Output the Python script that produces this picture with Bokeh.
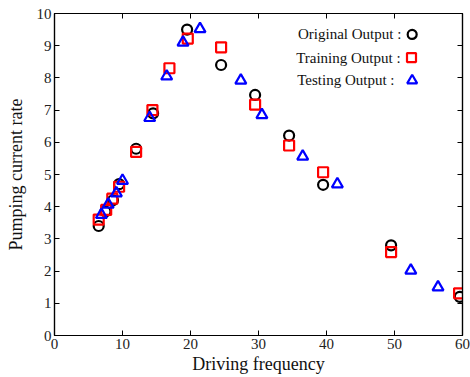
from bokeh.plotting import figure
from bokeh.models import LinearAxis, Range1d, FixedTicker, Label
from bokeh.embed import file_html
from bokeh.resources import INLINE

# Original output (black circles)
orig_x = [6.5, 7.5, 8.6, 9.5, 12.0, 14.5, 19.5, 24.5, 29.5, 34.5, 39.5, 49.5, 59.6]
orig_y = [3.4, 3.85, 4.2, 4.7, 5.8, 6.9, 9.5, 8.4, 7.47, 6.21, 4.68, 2.8, 1.2]
# Training output (red squares)
train_x = [6.5, 7.6, 8.5, 9.5, 12.0, 14.4, 16.9, 19.6, 24.5, 29.5, 34.5, 39.5, 49.5, 59.5]
train_y = [3.6, 3.9, 4.25, 4.62, 5.7, 7.0, 8.3, 9.22, 8.95, 7.17, 5.9, 5.07, 2.59, 1.31]
# Testing output (blue triangles)
test_x = [6.9, 7.9, 9.1, 10.0, 14.0, 16.5, 18.9, 21.4, 27.4, 30.5, 36.5, 41.6, 52.4, 56.4]
test_y = [3.75, 4.07, 4.42, 4.81, 6.76, 8.05, 9.1, 9.52, 7.92, 6.85, 5.56, 4.7, 2.02, 1.5]

x_ticks = [0, 10, 20, 30, 40, 50, 60]
y_ticks = [0, 1, 2, 3, 4, 5, 6, 7, 8, 9, 10]

legend_labels = ["Original Output :", "Training Output :", "Testing Output :"]

FONT = "Liberation Serif"

p = figure(width=470, height=377, output_backend="svg", toolbar_location=None,
           x_range=Range1d(0, 60), y_range=Range1d(0, 10),
           min_border_left=54, min_border_right=8, min_border_top=13, min_border_bottom=42,
           background_fill_color="white", border_fill_color="white")
p.frame_width = 408
p.frame_height = 322
p.grid.visible = False
p.outline_line_color = "black"
p.outline_line_width = 1.2

def style_axis(ax, labels=True):
    ax.axis_line_color = "black"
    ax.axis_line_width = 1.2
    ax.major_tick_in = 5
    ax.major_tick_out = 0
    ax.minor_tick_in = 0
    ax.minor_tick_out = 0
    ax.major_tick_line_color = "black"
    ax.major_label_text_font = FONT
    ax.axis_label_text_font = FONT
    ax.axis_label_text_font_size = "18px"
    ax.axis_label_text_font_style = "normal"
    ax.axis_label_text_color = "#111111"
    if labels:
        ax.major_label_text_font_size = "15px"
        ax.major_label_text_color = "#222222"
        ax.major_label_standoff = 3
    else:
        ax.major_label_text_font_size = "1px"
        ax.major_label_text_color = None
        ax.major_label_standoff = 0

p.xaxis.ticker = FixedTicker(ticks=x_ticks)
p.yaxis.ticker = FixedTicker(ticks=y_ticks)
p.xaxis.axis_label = "Driving frequency"
p.yaxis.axis_label = "Pumping current rate"
p.xaxis.axis_label_standoff = 2
p.yaxis.axis_label_standoff = 8
style_axis(p.xaxis[0])
style_axis(p.yaxis[0])

top = LinearAxis(ticker=FixedTicker(ticks=x_ticks))
right = LinearAxis(ticker=FixedTicker(ticks=y_ticks))
style_axis(top, labels=False)
style_axis(right, labels=False)
p.add_layout(top, "above")
p.add_layout(right, "right")

p.scatter(orig_x, orig_y, marker="circle", size=10, fill_color=None,
          line_color="black", line_width=2.2)
p.scatter(train_x, train_y, marker="square", size=10, fill_color=None,
          line_color="red", line_width=2.2)
p.scatter(test_x, test_y, marker="triangle", size=11, fill_color=None,
          line_color="blue", line_width=2.2)

# legend (manual, marker after label)
leg_y = [9.35, 8.63, 7.92]
leg_text_x = [51.0, 50.9, 50.0]
for lbl, tx, ty in zip(legend_labels, leg_text_x, leg_y):
    p.add_layout(Label(x=tx, y=ty, text=lbl, text_align="right", text_baseline="middle",
                       text_font=FONT, text_font_size="15px", text_color="#111111"))
p.scatter([52.6], [leg_y[0]], marker="circle", size=9, fill_color=None,
          line_color="black", line_width=2.2)
p.scatter([52.5], [leg_y[1]], marker="square", size=9, fill_color=None,
          line_color="red", line_width=2.2)
p.scatter([52.6], [leg_y[2]], marker="triangle", size=10, fill_color=None,
          line_color="blue", line_width=2.2)

open("out.html", "w").write(file_html(p, INLINE))
